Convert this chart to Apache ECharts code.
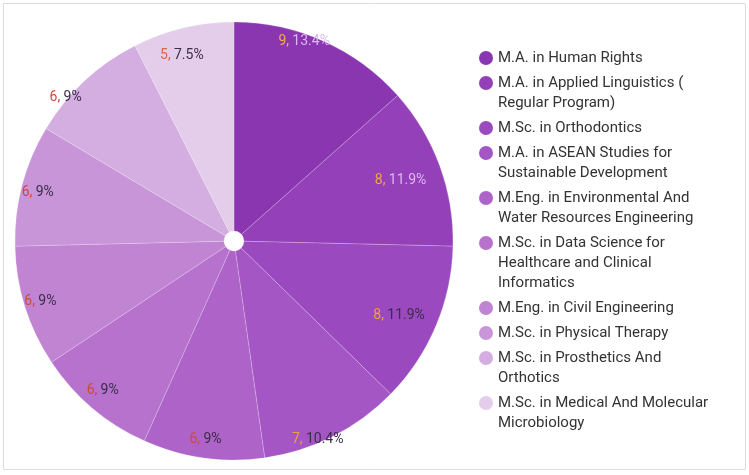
<!DOCTYPE html>
<html><head><meta charset="utf-8">
<script src="https://cdn.jsdelivr.net/npm/echarts@6/dist/echarts.min.js"></script>
<style>html,body{margin:0;padding:0;background:#fff}#c{width:749px;height:475px}</style>
</head><body><div id="c"></div>
<script>
const categories = [
  'M.A. in Human Rights',
  'M.A. in Applied Linguistics ( Regular Program)',
  'M.Sc. in Orthodontics',
  'M.A. in ASEAN Studies for Sustainable Development',
  'M.Eng. in Environmental And Water Resources Engineering',
  'M.Sc. in Data Science for Healthcare and Clinical Informatics',
  'M.Eng. in Civil Engineering',
  'M.Sc. in Physical Therapy',
  'M.Sc. in Prosthetics And Orthotics',
  'M.Sc. in Medical And Molecular Microbiology'
];
const values = [9, 8, 8, 7, 6, 6, 6, 6, 6, 5];
const legendLines = [
  'M.A. in Human Rights',
  'M.A. in Applied Linguistics (\nRegular Program)',
  'M.Sc. in Orthodontics',
  'M.A. in ASEAN Studies for\nSustainable Development',
  'M.Eng. in Environmental And\nWater Resources Engineering',
  'M.Sc. in Data Science for\nHealthcare and Clinical\nInformatics',
  'M.Eng. in Civil Engineering',
  'M.Sc. in Physical Therapy',
  'M.Sc. in Prosthetics And\nOrthotics',
  'M.Sc. in Medical And Molecular\nMicrobiology'
];

// styles
const sliceColors = ['#8a36b0','#9440b8','#9b49bf','#a556c5','#ae63c9','#b772ce','#c084d3','#c995d9','#d5aee1','#e4cdeb'];
const countColors = ['#f2b040','#f2a840','#f0a040','#f0a040','#cc4a3e','#cc4a3e','#cc4a3e','#cc4a3e','#cc4a3e','#d8654e'];
const pctColors = ['#dcb8ee','#dcb8ee','#3a2d48','#3a2d48','#3a2d48','#3a2d48','#3a2d48','#3a2d48','#3a2d48','#3a2d48'];
const labelNudge = [[-13,-14],[-24,9],[-22,-4],[-8,17],[0,-2],[0,-5],[0,0],[0,3],[-30,5],[-5,12]];

const total = values.reduce((a, b) => a + b, 0);
const pct = v => Math.round(v / total * 1000) / 10;

const rich = {
  g: { width: 5 },
  s: { width: 19 },
  t: { fontSize: 15, color: '#333', lineHeight: 20, fontFamily: 'Roboto' }
};
sliceColors.forEach((c, i) => {
  rich['d' + i] = { width: 14, height: 14, borderRadius: 7, backgroundColor: c, lineHeight: 20 };
});
const labelRich = {};
countColors.forEach((c, i) => { labelRich['n' + i] = { fontSize: 14, fontFamily: 'Roboto', color: c }; });
pctColors.forEach((c, i) => { labelRich['p' + i] = { fontSize: 14, fontFamily: 'Roboto', color: c }; });

const chart = echarts.init(document.getElementById('c'), null, { renderer: 'canvas' });
chart.setOption({
  animation: false,
  backgroundColor: '#fff',
  graphic: [{
    type: 'rect', silent: true,
    shape: { x: 3.5, y: 3.5, width: 742, height: 466 },
    style: { fill: null, stroke: '#dcdcdc', lineWidth: 1 }
  }],
  legend: {
    orient: 'vertical',
    left: 473,
    top: 48,
    padding: 0,
    itemGap: 5,
    itemWidth: 0,
    itemHeight: 0,
    selectedMode: false,
    data: categories,
    formatter: name => {
      const idx = categories.indexOf(name);
      return legendLines[idx].split('\n').map((l, i) =>
        (i === 0 ? '{d' + idx + '|}{g|}' : '{s|}') + '{t|' + l + '}').join('\n');
    },
    textStyle: { rich: rich, fontFamily: 'Roboto', fontSize: 15, lineHeight: 20 }
  },
  series: [
    {
      type: 'pie',
      center: [234, 241],
      radius: [10, 219],
      startAngle: 90,
      silent: true,
      label: { show: false },
      labelLine: { show: false },
      itemStyle: { borderColor: 'rgba(255,255,255,0.2)', borderWidth: 1 },
      emphasis: { disabled: true },
      data: categories.map((n, i) => ({ name: n, value: values[i], itemStyle: { color: sliceColors[i] } }))
    },
    {
      type: 'pie',
      center: [234, 241],
      radius: [181, 219],
      startAngle: 90,
      silent: true,
      itemStyle: { color: 'rgba(0,0,0,0)' },
      emphasis: { disabled: true },
      labelLine: { show: false },
      label: {
        show: true,
        position: 'inside',
        formatter: p => '{n' + p.dataIndex + '|' + p.value + ',} {p' + p.dataIndex + '|' + pct(p.value) + '%}',
        rich: labelRich
      },
      labelLayout: p => ({ dx: labelNudge[p.dataIndex][0], dy: labelNudge[p.dataIndex][1] }),
      data: categories.map((n, i) => ({ name: n, value: values[i] }))
    }
  ]
});
</script></body></html>
